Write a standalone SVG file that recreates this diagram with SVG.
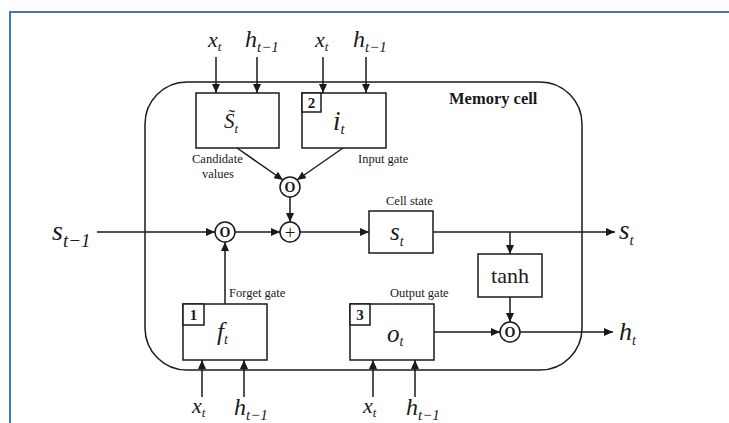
<svg xmlns="http://www.w3.org/2000/svg" width="729" height="423" viewBox="0 0 729 423">
<style>
.ln{stroke:#1a1a1a;stroke-width:1.5;fill:none}
.bx{stroke:#1a1a1a;stroke-width:1.5;fill:#fff}
.v{font-family:"Liberation Serif",serif;font-style:italic;fill:#1a1a1a}
.lb{font-family:"Liberation Serif",serif;font-size:12.5px;fill:#1a1a1a}
.num{font-family:"Liberation Serif",serif;font-weight:bold;font-size:15px;fill:#1a1a1a;text-anchor:middle}
.op{font-family:"Liberation Serif",serif;font-weight:bold;font-size:14px;fill:#1a1a1a;text-anchor:middle}
</style>
<defs>
<marker id="ah" markerUnits="userSpaceOnUse" markerWidth="9" markerHeight="8" refX="9" refY="4" orient="auto">
<path d="M0,0 L9,4 L0,8 z" fill="#1a1a1a"/>
</marker>
</defs>
<rect width="729" height="423" fill="#fff"/>
<path d="M10,423 L10,12 L729,12" stroke="#4472C4" stroke-width="2" fill="none"/>
<g id="memory-cell">
<rect x="145" y="82" width="437" height="288" rx="42" class="ln"/>
<text x="449" y="104" font-family="Liberation Serif,serif" font-weight="bold" font-size="16.5" fill="#1a1a1a">Memory cell</text>
</g>
<g id="connectors">
<line x1="216" y1="57" x2="216" y2="93" class="ln" marker-end="url(#ah)"/>
<line x1="257" y1="57" x2="257" y2="93" class="ln" marker-end="url(#ah)"/>
<line x1="323" y1="57" x2="323" y2="93" class="ln" marker-end="url(#ah)"/>
<line x1="366" y1="57" x2="366" y2="93" class="ln" marker-end="url(#ah)"/>
<line x1="237" y1="148" x2="283" y2="180" class="ln" marker-end="url(#ah)"/>
<line x1="343" y1="148" x2="297" y2="180" class="ln" marker-end="url(#ah)"/>
<line x1="290" y1="197" x2="290" y2="222" class="ln" marker-end="url(#ah)"/>
<line x1="97" y1="232" x2="215" y2="232" class="ln" marker-end="url(#ah)"/>
<line x1="235" y1="232" x2="280" y2="232" class="ln" marker-end="url(#ah)"/>
<line x1="300" y1="232" x2="369" y2="232" class="ln" marker-end="url(#ah)"/>
<line x1="225" y1="304" x2="225" y2="242" class="ln" marker-end="url(#ah)"/>
<line x1="433" y1="232" x2="615" y2="232" class="ln" marker-end="url(#ah)"/>
<line x1="510" y1="232" x2="510" y2="254" class="ln" marker-end="url(#ah)"/>
<line x1="510" y1="297" x2="510" y2="322" class="ln" marker-end="url(#ah)"/>
<line x1="434" y1="332" x2="500" y2="332" class="ln" marker-end="url(#ah)"/>
<line x1="520" y1="332" x2="613" y2="332" class="ln" marker-end="url(#ah)"/>
<line x1="202" y1="397" x2="202" y2="360" class="ln" marker-end="url(#ah)"/>
<line x1="244" y1="397" x2="244" y2="360" class="ln" marker-end="url(#ah)"/>
<line x1="373" y1="397" x2="373" y2="360" class="ln" marker-end="url(#ah)"/>
<line x1="415" y1="397" x2="415" y2="360" class="ln" marker-end="url(#ah)"/>
</g>
<g id="inputs-top">
<text x="208" y="47" class="v" font-size="22">x<tspan font-size="13" dy="4">t</tspan></text>
<text x="245" y="47" class="v" font-size="24">h<tspan font-size="15" dy="5">t−1</tspan></text>
<text x="315" y="47" class="v" font-size="22">x<tspan font-size="13" dy="4">t</tspan></text>
<text x="353" y="47" class="v" font-size="24">h<tspan font-size="15" dy="5">t−1</tspan></text>
</g>
<g id="candidate">
<rect x="196" y="93" width="83" height="55" class="bx"/>
<text x="224" y="128" class="v" font-size="21">S&#x303;<tspan font-size="13" dy="5">t</tspan></text>
<text x="192" y="163" class="lb">Candidate</text>
<text x="202" y="178" class="lb">values</text>
</g>
<g id="input-gate">
<rect x="302" y="93" width="84" height="55" class="bx"/>
<rect x="302" y="93" width="19" height="19" class="bx"/>
<text x="311.5" y="108" class="num">2</text>
<text x="333" y="130" class="v" font-size="27">i<tspan font-size="15" dy="4">t</tspan></text>
<text x="358" y="163" class="lb">Input gate</text>
</g>
<g id="mult-top">
<circle cx="290" cy="187" r="10" class="bx"/>
<text x="290" y="192" class="op">O</text>
</g>
<g id="plus">
<circle cx="290" cy="232" r="10" class="bx"/>
<text x="290" y="238.5" class="op" style="font-size:19px;font-weight:normal">+</text>
</g>
<g id="mult-forget">
<circle cx="225" cy="232" r="10" class="bx"/>
<text x="225" y="237" class="op">O</text>
</g>
<g id="prev-state">
<text x="52" y="240" class="v" font-size="28">s<tspan font-size="19" dy="7">t−1</tspan></text>
</g>
<g id="cell-state">
<rect x="369" y="211" width="64" height="42" class="bx"/>
<text x="390" y="240" class="v" font-size="25">s<tspan font-size="14" dy="6">t</tspan></text>
<text x="386" y="205" class="lb">Cell state</text>
</g>
<g id="tanh">
<rect x="478" y="254" width="64" height="43" class="bx"/>
<text x="510" y="283" font-family="Liberation Serif,serif" font-size="22" fill="#1a1a1a" text-anchor="middle">tanh</text>
</g>
<g id="mult-out">
<circle cx="510" cy="332" r="10" class="bx"/>
<text x="510" y="337" class="op">O</text>
</g>
<g id="forget-gate">
<rect x="183" y="304" width="84" height="56" class="bx"/>
<rect x="183" y="304" width="21" height="21" class="bx"/>
<text x="193.5" y="320" class="num">1</text>
<text x="217" y="340" class="v" font-size="25">f<tspan font-size="14" dy="4">t</tspan></text>
<text x="229" y="297" class="lb">Forget gate</text>
</g>
<g id="output-gate">
<rect x="350" y="304" width="84" height="56" class="bx"/>
<rect x="350" y="304" width="20" height="21" class="bx"/>
<text x="360" y="320" class="num">3</text>
<text x="387" y="342" class="v" font-size="25">o<tspan font-size="14" dy="4">t</tspan></text>
<text x="390" y="297" class="lb">Output gate</text>
</g>
<g id="outputs">
<text x="619" y="239" class="v" font-size="27">s<tspan font-size="15" dy="6">t</tspan></text>
<text x="619" y="340" class="v" font-size="26">h<tspan font-size="14" dy="5">t</tspan></text>
</g>
<g id="inputs-bottom">
<text x="192" y="413" class="v" font-size="22">x<tspan font-size="13" dy="4">t</tspan></text>
<text x="234" y="415" class="v" font-size="24">h<tspan font-size="15" dy="5">t−1</tspan></text>
<text x="363" y="413" class="v" font-size="22">x<tspan font-size="13" dy="4">t</tspan></text>
<text x="406" y="415" class="v" font-size="24">h<tspan font-size="15" dy="5">t−1</tspan></text>
</g>
</svg>
